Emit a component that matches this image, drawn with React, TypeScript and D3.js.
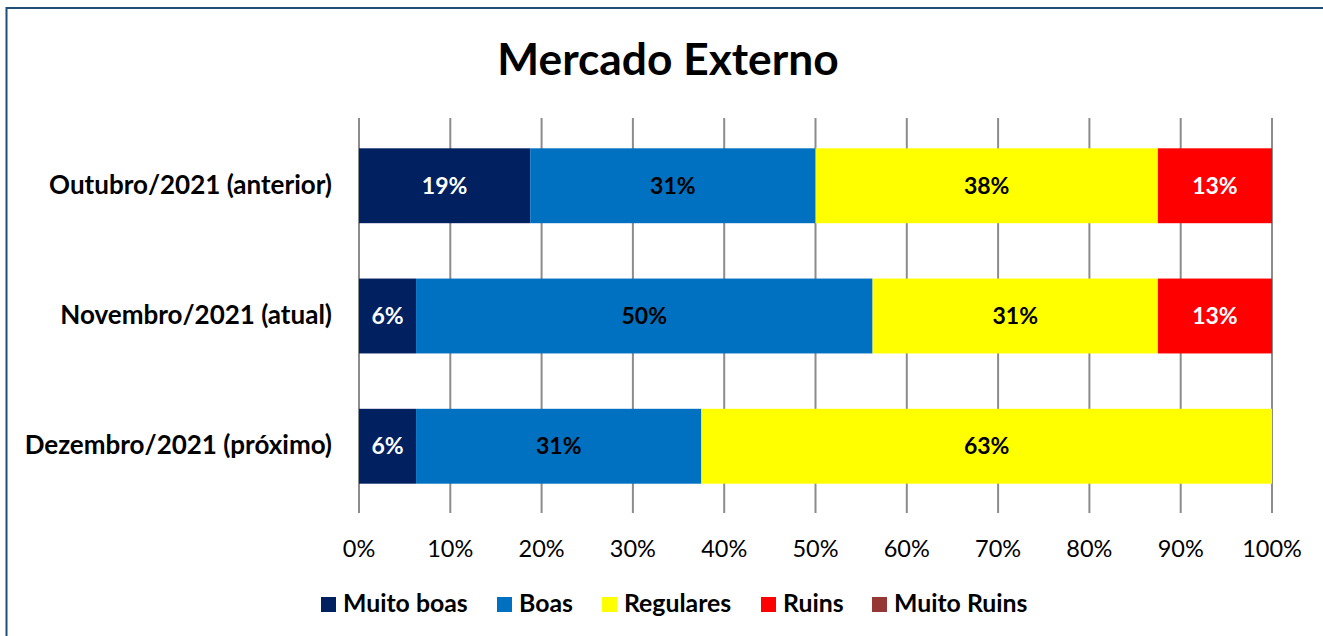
import React from "react";
import * as d3 from "d3";

const categories = ["Outubro/2021 (anterior)", "Novembro/2021 (atual)", "Dezembro/2021 (próximo)"];
const seriesNames = ["Muito boas", "Boas", "Regulares", "Ruins", "Muito Ruins"];
const muitoBoas = [18.75, 6.25, 6.25];
const boas = [31.25, 50, 31.25];
const regulares = [37.5, 31.25, 62.5];
const ruins = [12.5, 12.5, 0];
const muitoRuins = [0, 0, 0];
const tickValues = [0, 10, 20, 30, 40, 50, 60, 70, 80, 90, 100];
const colors = ["#002060", "#0070C0", "#FFFF00", "#FF0000", "#953735"];
const labelColors = ["#FFFFFF", "#000000", "#000000", "#FFFFFF", "#FFFFFF"];

const W = 1323;
const H = 636;
const FONT = "Lato, 'Open Sans', sans-serif";

export default function App() {
  const series = [muitoBoas, boas, regulares, ruins, muitoRuins];
  const rows = categories.map((c, i) => {
    const r: any = { cat: c };
    seriesNames.forEach((s, k) => (r[s] = series[k][i]));
    return r;
  });
  const stack = d3.stack<any>().keys(seriesNames)(rows);
  const x = d3.scaleLinear().domain([0, 100]).range([359, 1272]);
  const y = d3.scaleBand<string>().domain(categories).range([119, 513]).paddingInner(0.425).paddingOuter(0.225);

  const legendX = [321, 497, 602, 761, 872];

  return (
    <svg width={W} height={H} style={{ position: "absolute", left: 0, top: 0, display: "block" }} fontFamily={FONT}>
      <rect x={0} y={0} width={W} height={H} fill="#fff" />
      <path d={`M6.5,${H} V8 H${W}`} fill="none" stroke="#1F4E79" strokeWidth={2} />
      <text x={668} y={75} textAnchor="middle" fontSize={44.3} fontWeight={700} fill="#000">Mercado Externo</text>
      {tickValues.map((t) => (
        <line key={t} x1={x(t)} x2={x(t)} y1={118} y2={513} stroke="#8c8c8c" strokeWidth={2} />
      ))}
      {tickValues.map((t) => (
        <text key={"l" + t} x={x(t)} y={557} textAnchor="middle" fontSize={23.5} fill="#000">{t}%</text>
      ))}
      {categories.map((c) => (
        <text key={c} x={332} y={(y(c) as number) + y.bandwidth() / 2 + 8} textAnchor="end" fontSize={26} fontWeight={700} fill="#000">{c}</text>
      ))}
      {stack.map((s, k) => (
        <g key={s.key}>
          {s.map((d: any, i: number) => {
            const w = x(d[1]) - x(d[0]);
            if (w <= 0) return null;
            const yy = y(categories[i]) as number;
            return (
              <g key={i}>
                <rect x={x(d[0])} y={yy} width={w} height={y.bandwidth()} fill={colors[k]} />
                <text x={(x(d[0]) + x(d[1])) / 2} y={yy + y.bandwidth() / 2 + 8} textAnchor="middle" fontSize={23} fontWeight={700} fill={labelColors[k]}>
                  {Math.round(d[1] - d[0])}%
                </text>
              </g>
            );
          })}
        </g>
      ))}
      {seriesNames.map((s, k) => (
        <g key={s}>
          <rect x={legendX[k]} y={597} width={15} height={15} fill={colors[k]} />
          <text x={legendX[k] + 22} y={612} fontSize={24.8} fontWeight={700} fill="#000">{s}</text>
        </g>
      ))}
    </svg>
  );
}
